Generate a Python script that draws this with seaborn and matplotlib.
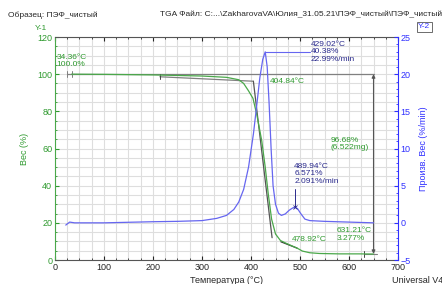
import numpy as np
import pandas as pd
import matplotlib
matplotlib.use("Agg")
import matplotlib.pyplot as plt
import seaborn as sns
from matplotlib.ticker import MultipleLocator

# TGA weight curve
temp_w = [34, 100, 200, 300, 350, 375, 385, 395, 404, 412, 422, 429, 435, 442,
          450, 460, 470, 480, 494, 505, 520, 540, 580, 620, 650]
weight = [100, 99.9, 99.6, 99.0, 98.3, 97.0, 95.0, 91.0, 87.0, 78.0, 64.0, 50.0, 36.0, 22.0,
          14.0, 10.5, 9.2, 8.0, 6.4, 4.8, 3.9, 3.5, 3.3, 3.3, 3.2]

# DTG curve (derivative weight)
temp_d = [22, 30, 40, 100, 200, 250, 300, 330, 350, 365, 375, 385, 395, 405, 412, 418,
          424, 429, 433, 437, 441, 445, 450, 456, 462, 470, 478, 485, 490, 495, 502,
          510, 520, 550, 600, 650]
deriv = [-0.3, 0.1, 0.0, 0.0, 0.15, 0.2, 0.3, 0.6, 1.0, 1.8, 2.8, 4.5, 7.5, 12.0, 16.0, 19.5,
         22.0, 23.0, 21.0, 16.0, 10.0, 5.0, 2.5, 1.3, 1.0, 1.2, 1.7, 2.0, 2.1, 1.9, 1.2,
         0.5, 0.3, 0.2, 0.1, 0.0]

# annotation values
start_T, start_w = 34.36, 100.0
onset_T = 404.84
peak_T, peak_w, peak_rate = 429.02, 40.38, 22.99
peak2_T, peak2_w, peak2_rate = 489.94, 6.571, 2.091
end_T = 478.92
res_T, res_w = 631.21, 3.277
step_T, step_pct, step_mg = 650, 96.68, 6.522

green = "#4aa84a"
green_txt = "#2f9a2f"
blue = "#6666f0"
blue_ax = "#3030ff"
navy = "#2a2a8c"
grey = "#808080"

sns.set_style("white")
plt.rcParams['font.family'] = ['Liberation Sans', 'DejaVu Sans']
plt.rcParams['font.size'] = 6

fig = plt.figure(figsize=(4.42, 2.84), dpi=100)
ax = fig.add_axes([0.1244, 0.0845, 0.7761, 0.7852])
ax2 = ax.twinx()

df_w = pd.DataFrame({"T": temp_w, "w": weight})
df_d = pd.DataFrame({"T": temp_d, "d": deriv})

ax.set_xlim(0, 700)
ax.set_ylim(0, 120)
ax2.set_ylim(-5, 25)

# grid
ax.xaxis.set_major_locator(MultipleLocator(100))
ax.xaxis.set_minor_locator(MultipleLocator(25))
ax.yaxis.set_major_locator(MultipleLocator(20))
ax.yaxis.set_minor_locator(MultipleLocator(5))
ax2.yaxis.set_major_locator(MultipleLocator(5))
ax2.yaxis.set_minor_locator(MultipleLocator(1))
ax.grid(True, which="both", color="#dedede", lw=0.8)
ax.set_axisbelow(True)

# reference lines (grey)
ax.plot([24, step_T], [start_w, start_w], color=grey, lw=0.9)
ax.plot([24, 24], [98.5, 101.5], color=grey, lw=0.7)
ax.plot([start_T, start_T], [98.5, 101.5], color=grey, lw=0.7)
ax.plot([214, onset_T], [98.6, 96.2], color=grey, lw=0.9)
ax.plot([214, 214], [97.3, 100], color="#444444", lw=0.7)
ax.plot([onset_T, 443], [96.2, 12], color="#555555", lw=0.9)
ax.plot([461, 494], [9.8, 6.4], color="#333333", lw=0.9)
ax.annotate("", xy=(step_T, start_w), xytext=(step_T, res_w),
            arrowprops=dict(arrowstyle="<|-|>", color="#555555", lw=0.8,
                            mutation_scale=5, shrinkA=0, shrinkB=0))
ax.plot([res_T, step_T + 8], [res_w, res_w], color=grey, lw=0.8)
ax.plot([res_T, res_T], [1.5, 5], color="#444444", lw=0.7)

sns.lineplot(data=df_w, x="T", y="w", ax=ax, color=green, lw=0.9)
sns.lineplot(data=df_d, x="T", y="d", ax=ax2, color=blue, lw=0.9)

# DTG annotations
ax2.plot([peak_T, 520], [peak_rate, peak_rate], color=blue, lw=0.8)
ax2.text(522, peak_rate, f"{peak_T:.2f}°C\n{peak_w:.2f}%\n{peak_rate:.2f}%/min",
         color=navy, fontsize=6, va="center", ha="left", linespacing=1.05)
ax2.plot([peak2_T, peak2_T], [peak2_rate, 4.6], color=navy, lw=0.7)
ax2.plot(peak2_T, peak2_rate, marker="x", ms=3, color=navy, mew=0.6)
ax2.text(488, 6.6, f"{peak2_T:.2f}°C\n{peak2_w:.3f}%\n{peak2_rate:.3f}%/min",
         color=navy, fontsize=6, va="center", ha="left", linespacing=1.05)

# TGA annotations
ax.text(3, 107, f"{start_T:.2f}°C\n{start_w:.1f}%", color=green_txt, fontsize=6,
        va="center", ha="left", linespacing=1.05)
ax.text(439, 96.3, f"{onset_T:.2f}°C", color=green_txt, fontsize=6, va="center")
ax.text(562, 62.6, f"{step_pct:.2f}%\n({step_mg:.3f}mg)", color=green_txt, fontsize=6,
        va="center", ha="left", linespacing=1.05)
ax.text(484, 11.2, f"{end_T:.2f}°C", color=green_txt, fontsize=6, va="center")
ax.text(575, 13.7, f"{res_T:.2f}°C\n{res_w:.3f}%", color=green_txt, fontsize=6,
        va="center", ha="left", linespacing=1.05)

# axes styling
for s in ["left", "right", "top", "bottom"]:
    ax.spines[s].set_visible(False)
    ax2.spines[s].set_visible(False)
ax.spines["left"].set_visible(True)
ax.spines["left"].set_color(green)
ax.spines["bottom"].set_visible(True)
ax.spines["bottom"].set_color("#555555")
ax.spines["top"].set_visible(True)
ax.spines["top"].set_color("#555555")
ax2.spines["right"].set_visible(True)
ax2.spines["right"].set_color(blue_ax)
for sp in ax.spines.values():
    sp.set_linewidth(0.8)
ax2.spines["right"].set_linewidth(0.8)

ax.tick_params(axis="y", which="both", colors=green_txt, direction="in", labelsize=6.5, pad=2)
ax.tick_params(axis="y", which="major", length=3)
ax.tick_params(axis="y", which="minor", length=1.5)
ax.tick_params(axis="x", which="both", direction="in", labelsize=6.5, pad=2,
               top=True, bottom=True)
ax.tick_params(axis="x", which="major", length=3)
ax.tick_params(axis="x", which="minor", length=1.5)
ax2.tick_params(axis="y", which="both", colors=blue_ax, direction="in", labelsize=6.5, pad=2)
ax2.tick_params(axis="y", which="major", length=3)
ax2.tick_params(axis="y", which="minor", length=1.5)

ax.set_xlabel("Температура (°C)", fontsize=6.5, labelpad=3)
ax.set_ylabel("Вес (%)", fontsize=6.5, color=green_txt, labelpad=6)
ax2.set_ylabel("Произв. Вес (%/min)", fontsize=6.5, color=blue_ax, labelpad=6)

# header texts
fig.text(0.018, 0.947, "Образец: ПЭФ_чистый", fontsize=6, va="center")
fig.text(0.362, 0.947, "TGA Файл: C:...\\ZakharovaVA\\Юлия_31.05.21\\ПЭФ_чистый\\ПЭФ_чистый.001",
         fontsize=6, va="center")
fig.text(0.078, 0.9, "Y-1", fontsize=6, color=green_txt, va="center")
fig.text(0.946, 0.905, "Y-2", fontsize=6, color=blue_ax, va="center",
         bbox=dict(boxstyle="square,pad=0.15", fc="white", ec="#555555", lw=0.6))
fig.text(0.887, 0.012, "Universal V4.7A TA Instruments", fontsize=6.5, va="center")

fig.savefig("out.png", dpi=100)
